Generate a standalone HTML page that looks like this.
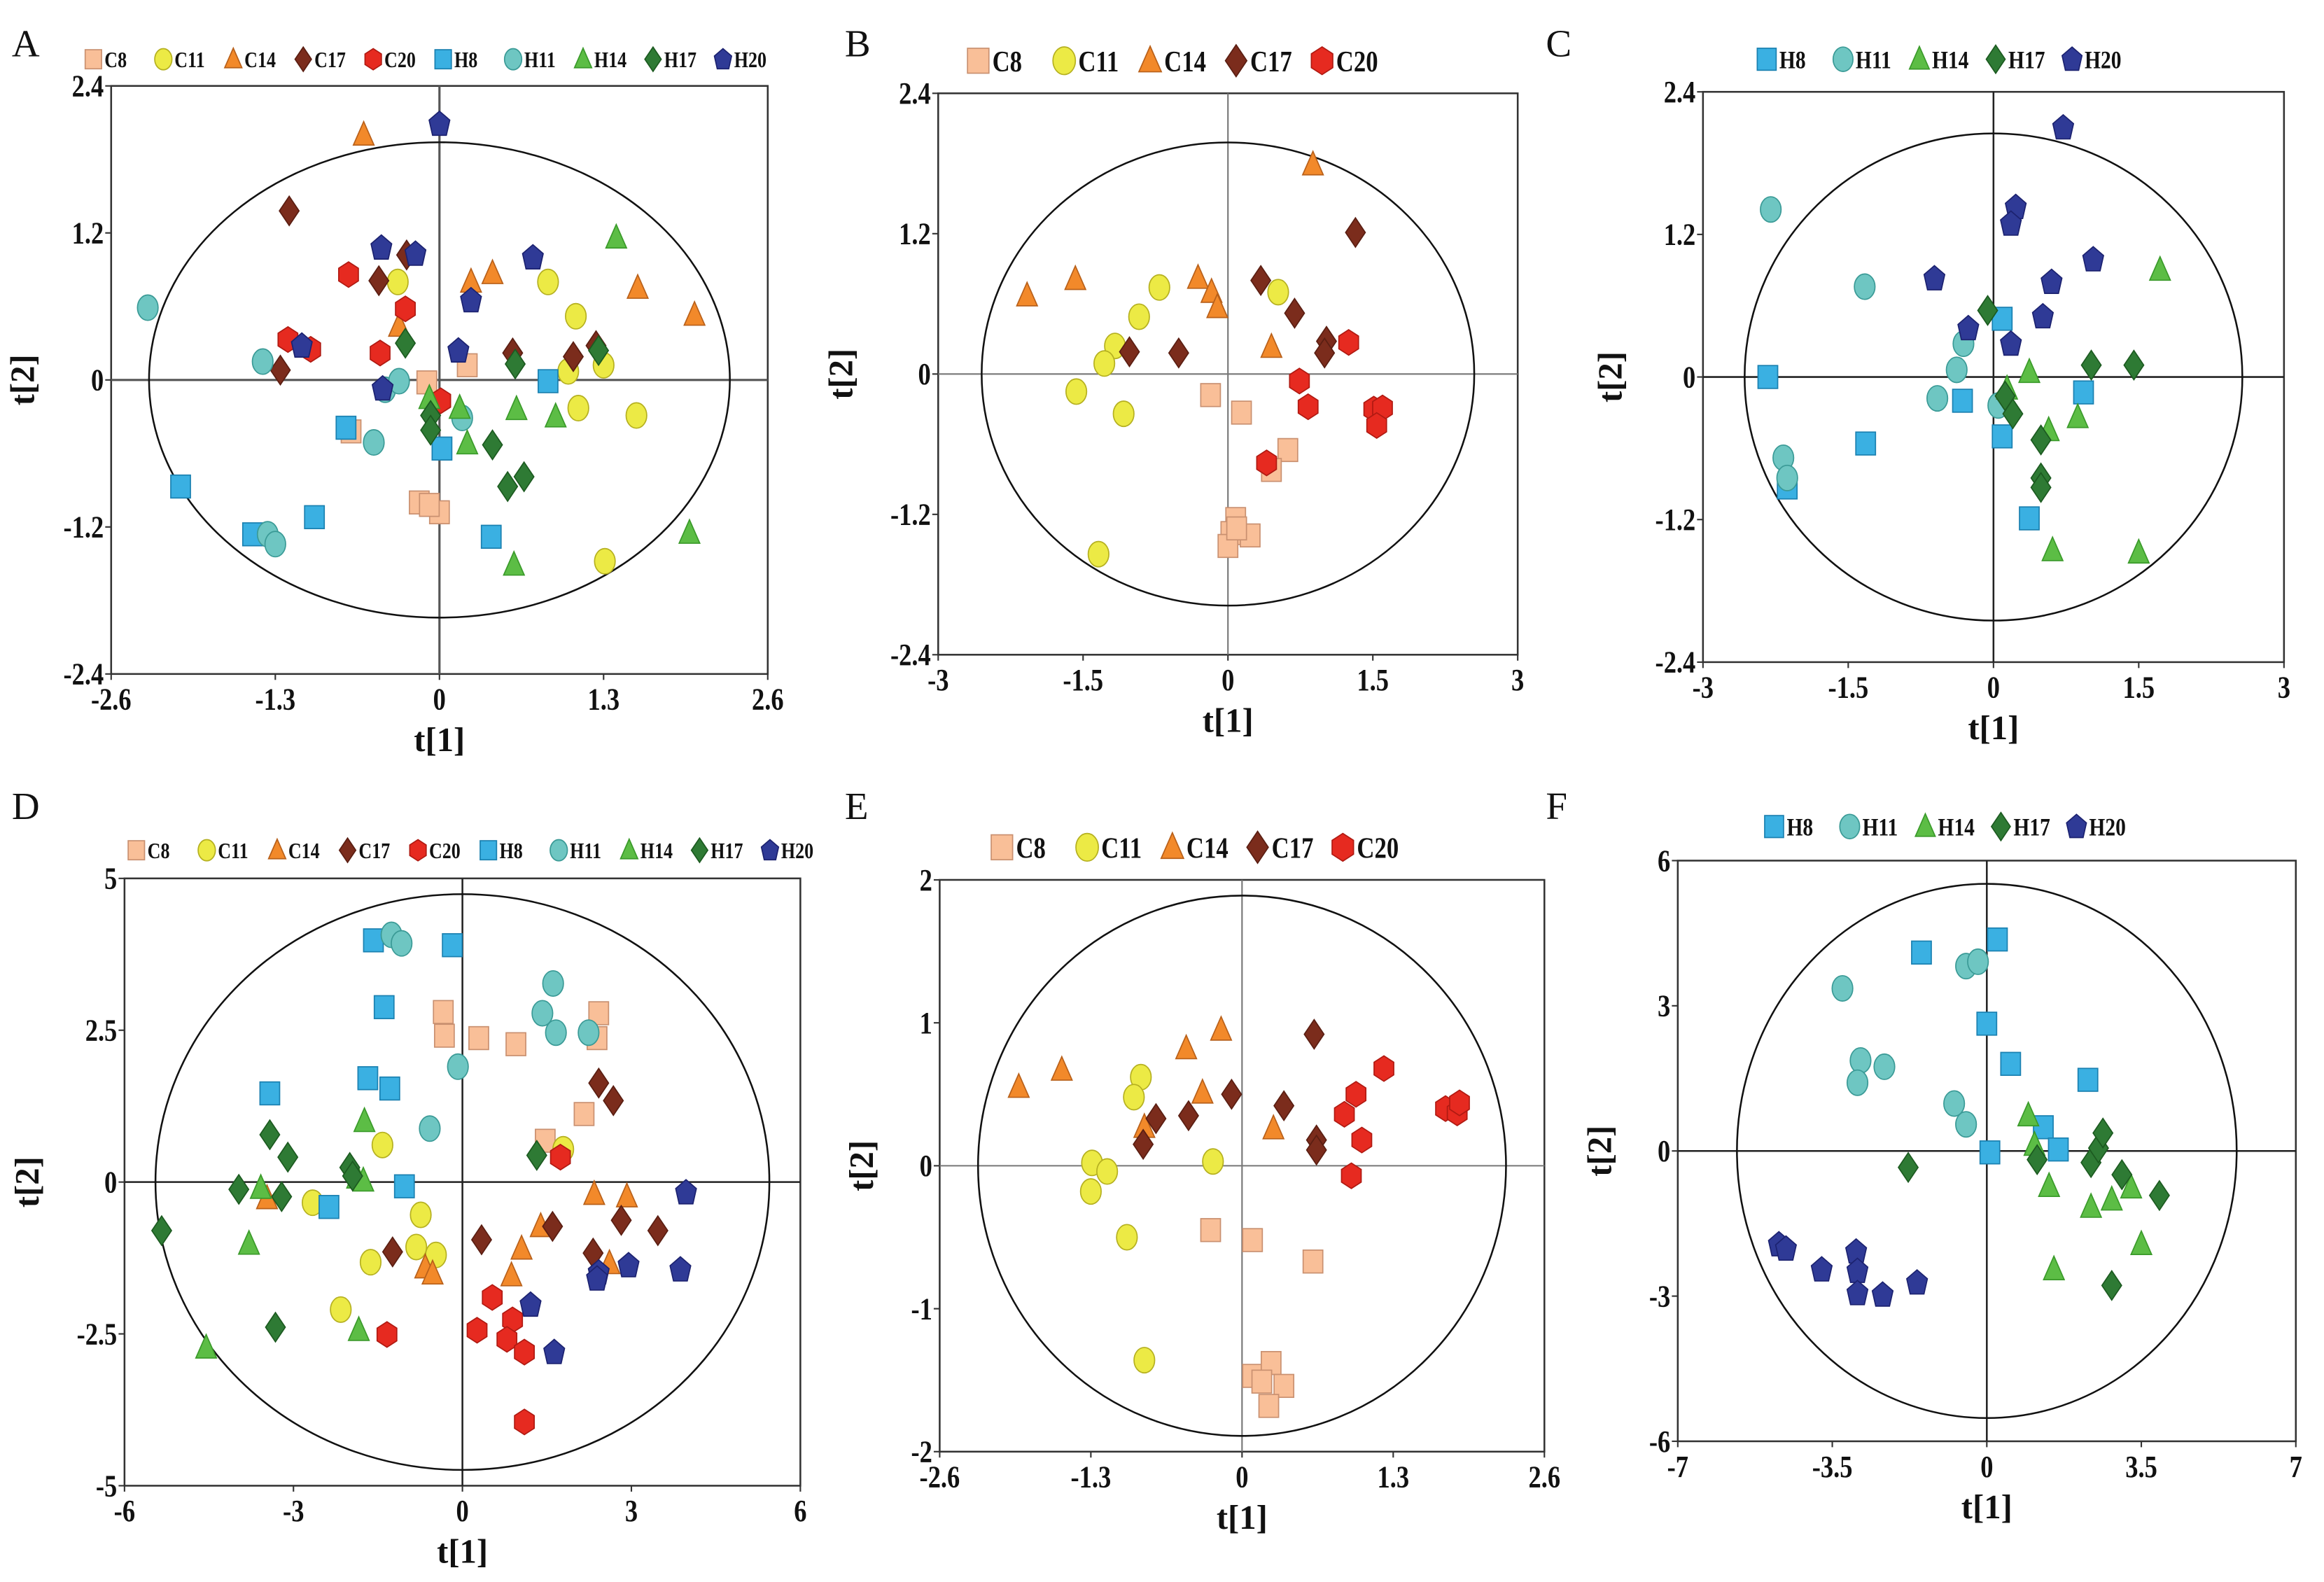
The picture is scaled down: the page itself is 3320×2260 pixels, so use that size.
<!DOCTYPE html>
<html><head><meta charset="utf-8"><style>
html,body{margin:0;padding:0;background:#fff;}
svg{display:block;font-family:"Liberation Serif",serif;}
</style></head><body>
<svg id="chart" width="3320" height="2260" viewBox="0 0 1568 1068" preserveAspectRatio="none" xmlns="http://www.w3.org/2000/svg">
<rect x="0" y="0" width="1568" height="1068" fill="#fff"/>
</svg>
<script>
// ---------- data (t[1], t[2]) ----------
const A_C8=[[-0.1,-0.02],[0.22,0.12],[-0.7,-0.42],[-0.16,-1.0],[0,-1.08],[-0.08,-1.02]];
const A_C11=[[-0.33,0.8],[0.86,0.8],[1.08,0.52],[1.3,0.12],[1.02,0.07],[1.1,-0.23],[1.56,-0.29],[1.31,-1.48]];
const A_C14=[[-0.6,2.0],[0.25,0.8],[0.42,0.87],[1.57,0.75],[2.02,0.53],[-0.32,0.44]];
const A_C17=[[-1.19,1.38],[-0.48,0.81],[-0.26,1.02],[-1.26,0.08],[0.58,0.22],[1.06,0.19],[1.24,0.28]];
const A_C20=[[-0.72,0.86],[-1.2,0.33],[-1.02,0.25],[-0.27,0.58],[-0.47,0.22],[0.01,-0.17]];
const A_H8=[[-2.05,-0.87],[-1.48,-1.26],[-0.99,-1.12],[-0.74,-0.39],[0.02,-0.56],[0.41,-1.28],[0.86,-0.01]];
const A_H11=[[-2.31,0.59],[-1.4,0.15],[-1.36,-1.26],[-1.3,-1.34],[-0.52,-0.51],[-0.43,-0.08],[-0.32,-0.01],[0.18,-0.31]];
const A_H14=[[1.4,1.16],[-0.08,-0.15],[0.16,-0.23],[0.22,-0.52],[0.61,-0.24],[0.92,-0.3],[0.59,-1.51],[1.98,-1.25]];
const A_H17=[[-0.27,0.3],[-0.07,-0.29],[-0.07,-0.41],[0.42,-0.53],[0.54,-0.87],[0.67,-0.79],[0.6,0.13],[1.26,0.24]];
const A_H20=[[0,2.09],[-0.46,1.08],[-0.19,1.03],[0.74,1.0],[0.25,0.65],[-1.09,0.28],[-0.45,-0.07],[0.15,0.24]];

const B_C8=[[-0.18,-0.18],[0.14,-0.33],[0.62,-0.65],[0.45,-0.82],[0.08,-1.24],[0.03,-1.36],[0.23,-1.38],[0,-1.47],[0.09,-1.32]];
const B_C11=[[-0.71,0.74],[-0.92,0.49],[-1.17,0.24],[-1.28,0.09],[-1.08,-0.34],[-1.57,-0.15],[-1.34,-1.54],[0.52,0.7]];
const B_C14=[[-2.08,0.67],[-1.58,0.81],[-0.31,0.82],[-0.17,0.7],[-0.11,0.57],[0.88,1.79],[0.45,0.23]];
const B_C17=[[-1.02,0.19],[-0.51,0.18],[0.34,0.8],[0.69,0.52],[1.32,1.21],[1.02,0.28],[1.0,0.18]];
const B_C20=[[1.25,0.27],[0.74,-0.06],[0.83,-0.28],[0.4,-0.76],[1.51,-0.3],[1.6,-0.29],[1.54,-0.44]];

const C_H8=[[-2.33,0],[-2.13,-0.93],[-1.32,-0.56],[-0.32,-0.2],[0.09,0.49],[0.09,-0.5],[0.37,-1.19],[0.93,-0.13]];
const C_H11=[[-2.3,1.41],[-1.33,0.76],[-2.17,-0.68],[-2.13,-0.85],[-0.58,-0.18],[-0.38,0.06],[-0.31,0.28],[0.05,-0.24]];
const C_H14=[[1.72,0.9],[0.37,0.04],[0.57,-0.45],[0.87,-0.34],[0.61,-1.46],[1.5,-1.48],[0.14,-0.1]];
const C_H17=[[-0.06,0.56],[0.12,-0.16],[0.2,-0.31],[0.49,-0.53],[0.49,-0.85],[0.49,-0.93],[1.01,0.1],[1.45,0.1]];
const C_H20=[[0.72,2.1],[0.23,1.43],[0.18,1.29],[-0.61,0.83],[0.6,0.8],[1.03,0.99],[0.51,0.51],[-0.26,0.41],[0.18,0.28]];

const D_C8=[[-0.34,2.8],[-0.32,2.41],[0.29,2.37],[0.95,2.27],[2.42,2.78],[2.39,2.37],[2.16,1.12],[1.47,0.68]];
const D_C11=[[-1.42,0.61],[-2.66,-0.34],[-1.63,-1.32],[-0.82,-1.07],[-0.74,-0.54],[-0.47,-1.2],[-2.16,-2.1],[1.79,0.54]];
const D_C14=[[-3.47,-0.27],[-0.66,-1.41],[-0.53,-1.51],[0.87,-1.54],[1.05,-1.1],[1.39,-0.73],[2.34,-0.2],[2.92,-0.24],[2.61,-1.34]];
const D_C17=[[2.42,1.63],[2.68,1.34],[-1.24,-1.15],[0.34,-0.95],[1.6,-0.73],[2.32,-1.17],[2.82,-0.63],[3.47,-0.8]];
const D_C20=[[1.74,0.41],[-1.34,-2.51],[0.26,-2.44],[0.53,-1.9],[0.89,-2.27],[0.79,-2.59],[1.1,-2.8],[1.1,-3.95]];
const D_H8=[[-1.58,3.98],[-0.18,3.9],[-1.39,2.88],[-1.68,1.71],[-1.29,1.54],[-3.42,1.46],[-2.37,-0.41],[-1.03,-0.07]];
const D_H11=[[-1.26,4.07],[-1.08,3.93],[1.61,3.27],[1.42,2.78],[1.66,2.46],[2.24,2.46],[-0.08,1.9],[-0.58,0.88]];
const D_H14=[[-4.55,-2.73],[-3.79,-1.02],[-3.58,-0.1],[-1.84,-2.44],[-1.74,1.0],[-1.87,0.07],[-1.76,0.02]];
const D_H17=[[-5.34,-0.8],[-3.97,-0.12],[-3.42,0.78],[-3.1,0.41],[-3.21,-0.24],[-3.32,-2.39],[-2.0,0.24],[-1.95,0.1],[1.32,0.44]];
const D_H20=[[3.97,-0.17],[3.87,-1.44],[2.95,-1.37],[2.42,-1.49],[2.39,-1.59],[1.21,-2.02],[1.63,-2.8]];

const E_C8=[[-0.27,-0.45],[0.09,-0.52],[0.61,-0.67],[0.09,-1.47],[0.25,-1.38],[0.17,-1.51],[0.36,-1.54],[0.23,-1.68]];
const E_C11=[[-0.87,0.62],[-0.93,0.48],[-1.29,0.02],[-1.16,-0.04],[-1.3,-0.18],[-0.25,0.03],[-0.99,-0.5],[-0.84,-1.36]];
const E_C14=[[-1.92,0.55],[-1.55,0.67],[-0.84,0.27],[-0.48,0.82],[-0.18,0.95],[-0.34,0.51],[0.27,0.26]];
const E_C17=[[-0.85,0.15],[-0.74,0.33],[-0.46,0.35],[-0.09,0.5],[0.36,0.42],[0.62,0.92],[0.64,0.18],[0.64,0.11]];
const E_C20=[[1.22,0.68],[0.98,0.5],[0.88,0.36],[1.03,0.18],[0.94,-0.07],[1.75,0.4],[1.85,0.37],[1.87,0.44]];

const F_H8=[[-1.48,4.1],[0.24,4.37],[0,2.63],[0.54,1.8],[2.29,1.47],[1.28,0.49],[1.62,0.03],[0.07,-0.03]];
const F_H11=[[-3.27,3.36],[-2.86,1.87],[-2.93,1.41],[-2.32,1.74],[-0.47,3.82],[-0.2,3.91],[-0.74,0.98],[-0.47,0.55]];
const F_H14=[[0.94,0.73],[1.08,0.12],[1.41,-0.73],[2.36,-1.16],[2.83,-1.01],[3.27,-0.76],[3.5,-1.93],[1.52,-2.45]];
const F_H17=[[-1.78,-0.34],[1.14,-0.18],[2.36,-0.24],[2.53,0.06],[2.63,0.37],[3.06,-0.49],[3.91,-0.92],[2.83,-2.78]];
const F_H20=[[-4.71,-1.93],[-4.55,-2.02],[-3.74,-2.45],[-2.96,-2.08],[-2.93,-2.48],[-2.93,-2.94],[-2.36,-2.97],[-1.58,-2.72]];

const A_ticksX=["-2.6","-1.3","0","1.3","2.6"], A_ticksY=["2.4","1.2","0","-1.2","-2.4"];
const B_ticksX=["-3","-1.5","0","1.5","3"], B_ticksY=["2.4","1.2","0","-1.2","-2.4"];
const C_ticksX=["-3","-1.5","0","1.5","3"], C_ticksY=["2.4","1.2","0","-1.2","-2.4"];
const D_ticksX=["-6","-3","0","3","6"], D_ticksY=["5","2.5","0","-2.5","-5"];
const E_ticksX=["-2.6","-1.3","0","1.3","2.6"], E_ticksY=["2","1","0","-1","-2"];
const F_ticksX=["-7","-3.5","0","3.5","7"], F_ticksY=["6","3","0","-3","-6"];

// ---------- styles ----------
const STY={
 C8:{shape:'square',fill:'#f9bf98',stroke:'#c99070'},
 C11:{shape:'circle',fill:'#ecea45',stroke:'#b5b020'},
 C14:{shape:'triangle',fill:'#f2892a',stroke:'#b8601a'},
 C17:{shape:'diamond',fill:'#7b2c1c',stroke:'#5a1e12'},
 C20:{shape:'hexagon',fill:'#e62a20',stroke:'#b01a12'},
 H8:{shape:'square',fill:'#3ab0e2',stroke:'#1a80b0'},
 H11:{shape:'circle',fill:'#6ec6c2',stroke:'#3a9a96'},
 H14:{shape:'triangle',fill:'#5cbd45',stroke:'#3a9a2a'},
 H17:{shape:'diamond',fill:'#2e7a34',stroke:'#1c5a20'},
 H20:{shape:'pentagon',fill:'#2f3a96',stroke:'#1c2270'}
};
const NS='http://www.w3.org/2000/svg';
const svg=document.getElementById('chart');
function el(tag,attrs,parent){const e=document.createElementNS(NS,tag);for(const k in attrs)e.setAttribute(k,attrs[k]);(parent||svg).appendChild(e);return e;}

function marker(g,grp,cx,cy,s){
 const st=STY[grp];const w=s*0.85,h=s*1.1;let e;
 const a={fill:st.fill,stroke:st.stroke,'stroke-width':0.8};
 if(st.shape==='square'){e=el('rect',Object.assign({x:cx-w,y:cy-h*0.9,width:2*w,height:1.8*h},a),g);}
 else if(st.shape==='circle'){e=el('ellipse',Object.assign({cx:cx,cy:cy,rx:w*1.05,ry:h},a),g);}
 else {let pts;
  if(st.shape==='triangle')pts=[[0,-h*1.05],[w*1.05,h*0.8],[-w*1.05,h*0.8]];
  else if(st.shape==='diamond')pts=[[0,-h*1.15],[w,0],[0,h*1.15],[-w,0]];
  else if(st.shape==='hexagon')pts=[[0,-h],[w,-h*0.5],[w,h*0.5],[0,h],[-w,h*0.5],[-w,-h*0.5]];
  else pts=[[0,-h],[w*1.05,-h*0.3],[w*0.7,h*0.9],[-w*0.7,h*0.9],[-w*1.05,-h*0.3]];
  e=el('polygon',Object.assign({points:pts.map(p=>(cx+p[0])+','+(cy+p[1])).join(' ')},a),g);}
 return e;
}
function cond(t,x,y,extra,parent){ // condensed text via scaleX
 const g=el('g',{transform:'translate('+x+' '+y+') scale(0.82 1)'},parent);
 const tt=el('text',Object.assign({x:0,y:0},extra),g);return tt;
}

function panel(cfg){
 const g=el('g',{});
 
 
 const [x0,x1]=cfg.xd,[y0,y1]=cfg.yd;
 const sx=v=>cfg.L+(v-x0)/(x1-x0)*(cfg.R-cfg.L);
 const sy=v=>cfg.B-(v-y0)/(y1-y0)*(cfg.B-cfg.T);
 const lab=el('text',{x:cfg.lx,y:cfg.ly,'font-size':26,fill:'#111'},g);lab.textContent=cfg.id;
 
 
 const frame=el('rect',{x:cfg.L,y:cfg.T,width:cfg.R-cfg.L,height:cfg.B-cfg.T,fill:'none',stroke:'#333','stroke-width':1.2},g);
 
 
 el('line',{x1:cfg.L,x2:cfg.R,y1:sy(0),y2:sy(0),stroke:cfg.zc,'stroke-width':cfg.zw},g);
 el('line',{x1:sx(0),x2:sx(0),y1:cfg.T,y2:cfg.B,stroke:cfg.zc,'stroke-width':cfg.zw},g);
 const ell=el('ellipse',{cx:sx(0),cy:sy(0),rx:sx(cfg.ex)-sx(0),ry:sy(0)-sy(cfg.ey),fill:'none',stroke:'#111','stroke-width':1.2},g);
 
 
 cfg.tx.forEach((t,i)=>{const v=x0+(x1-x0)*i/(cfg.tx.length-1);const x=sx(v);
  el('line',{x1:x,x2:x,y1:cfg.B,y2:cfg.B+4,stroke:'#333'},g);
  const tt=cond(t,x,cfg.B+24,{'text-anchor':'middle','font-size':21,'font-weight':'bold',fill:'#111'},g);tt.textContent=t;
  
  });
 cfg.ty.forEach((t,i)=>{const v=y1-(y1-y0)*i/(cfg.ty.length-1);const y=sy(v);
  el('line',{x1:cfg.L-4,x2:cfg.L,y1:y,y2:y,stroke:'#333'},g);
  const tt=cond(t,cfg.L-5,y+7,{'text-anchor':'end','font-size':21,'font-weight':'bold',fill:'#111'},g);tt.textContent=t;
  
  });
 const xt=el('text',{x:(cfg.L+cfg.R)/2,y:cfg.B+52,'text-anchor':'middle','font-size':23,'font-weight':'bold',fill:'#111'},g);xt.textContent='t[1]';
 
 
 const yx=cfg.L-cfg.yto,yy=(cfg.T+cfg.B)/2;
 const yt=el('text',{x:yx,y:yy,'text-anchor':'middle','font-size':23,'font-weight':'bold',fill:'#111',transform:'rotate(-90 '+yx+' '+yy+')'},g);yt.textContent='t[2]';
 
 
 // legend
 const lg=el('g',{},g);
 
 
 cfg.groups.forEach((gr,i)=>{const mx=cfg.lgx+i*cfg.lgs;
  const m=marker(lg,gr[0],mx,cfg.lgy,cfg.lgm);
  
  
  const t=cond(gr[0],mx+cfg.lgm+1,cfg.lgy+cfg.lgf*0.36,{'font-size':cfg.lgf,'font-weight':'bold',fill:'#111'},lg);t.textContent=gr[0];
  
  });
 // points
 cfg.groups.forEach(gr=>{const sg=el('g',{},g);
  
  
  gr[1].forEach(p=>{const m=marker(sg,gr[0],sx(p[0]),sy(p[1]),7.8);
   
   });});
}

panel({id:'A',L:75,R:518,T:58,B:455,xd:[-2.6,2.6],yd:[-2.4,2.4],tx:A_ticksX,ty:A_ticksY,ex:2.3,ey:1.94,zc:'#555',zw:1.5,lx:8,ly:38,yto:52,
 lgx:63,lgy:40,lgs:47.2,lgm:6.5,lgf:15,
 groups:[['C8',A_C8],['C11',A_C11],['C14',A_C14],['C17',A_C17],['C20',A_C20],['H8',A_H8],['H11',A_H11],['H14',A_H14],['H17',A_H17],['H20',A_H20]]});
panel({id:'B',L:633,R:1024,T:63,B:442,xd:[-3,3],yd:[-2.4,2.4],tx:B_ticksX,ty:B_ticksY,ex:2.55,ey:1.98,zc:'#777',zw:1,lx:570,ly:38,yto:58,
 lgx:660,lgy:41,lgs:58,lgm:8.5,lgf:20,
 groups:[['C8',B_C8],['C11',B_C11],['C14',B_C14],['C17',B_C17],['C20',B_C20]]});
panel({id:'C',L:1149,R:1541,T:62,B:447,xd:[-3,3],yd:[-2.4,2.4],tx:C_ticksX,ty:C_ticksY,ex:2.57,ey:2.05,zc:'#222',zw:1.2,lx:1043,ly:38,yto:55,
 lgx:1192,lgy:40,lgs:51.5,lgm:7.5,lgf:17,
 groups:[['H8',C_H8],['H11',C_H11],['H14',C_H14],['H17',C_H17],['H20',C_H20]]});
panel({id:'D',L:84,R:540,T:593,B:1003,xd:[-6,6],yd:[-5,5],tx:D_ticksX,ty:D_ticksY,ex:5.45,ey:4.74,zc:'#222',zw:1.2,lx:8,ly:553,yto:58,
 lgx:92,lgy:574,lgs:47.5,lgm:6.5,lgf:15,
 groups:[['C8',D_C8],['C11',D_C11],['C14',D_C14],['C17',D_C17],['C20',D_C20],['H8',D_H8],['H11',D_H11],['H14',D_H14],['H17',D_H17],['H20',D_H20]]});
panel({id:'E',L:634,R:1042,T:594,B:980,xd:[-2.6,2.6],yd:[-2,2],tx:E_ticksX,ty:E_ticksY,ex:2.27,ey:1.89,zc:'#777',zw:1,lx:570,ly:553,yto:45,
 lgx:676,lgy:572,lgs:57.5,lgm:8.5,lgf:20,
 groups:[['C8',E_C8],['C11',E_C11],['C14',E_C14],['C17',E_C17],['C20',E_C20]]});
panel({id:'F',L:1132,R:1549,T:581,B:973,xd:[-7,7],yd:[-6,6],tx:F_ticksX,ty:F_ticksY,ex:5.66,ey:5.52,zc:'#222',zw:1.2,lx:1043,ly:553,yto:45,
 lgx:1197,lgy:558,lgs:51,lgm:7.5,lgf:17,
 groups:[['H8',F_H8],['H11',F_H11],['H14',F_H14],['H17',F_H17],['H20',F_H20]]});
</script>
</body></html>
